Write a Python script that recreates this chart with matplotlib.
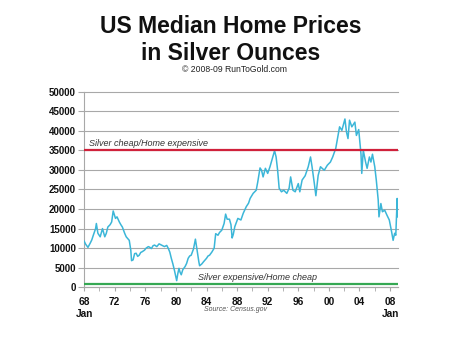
import matplotlib
matplotlib.use("Agg")
import matplotlib.pyplot as plt

# approximate monthly-ish readings of the chart (year, silver ounces)
YEARS = [
    1968.0, 1968.2, 1968.5, 1968.8, 1969.0, 1969.2, 1969.5, 1969.6, 1969.8, 1970.1,
    1970.4, 1970.7, 1970.9, 1971.1, 1971.4, 1971.6, 1971.8, 1972.1, 1972.3, 1972.6,
    1972.8, 1973.0, 1973.3, 1973.5, 1973.9, 1974.1, 1974.2, 1974.4, 1974.6, 1974.8,
    1975.0, 1975.2, 1975.4, 1975.6, 1975.9, 1976.1, 1976.4, 1976.6, 1976.8, 1977.0,
    1977.2, 1977.5, 1977.8, 1978.1, 1978.5, 1978.8, 1979.0, 1979.2, 1979.4, 1979.6,
    1979.8, 1979.95, 1980.1, 1980.25, 1980.4, 1980.55, 1980.7, 1980.9, 1981.2, 1981.4,
    1981.6, 1981.8, 1982.0, 1982.3, 1982.55, 1982.8, 1983.0, 1983.1, 1983.4, 1983.6,
    1984.0, 1984.2, 1984.4, 1984.7, 1985.0, 1985.2, 1985.5, 1985.7, 1986.0, 1986.3,
    1986.5, 1986.7, 1987.0, 1987.2, 1987.35, 1987.5, 1987.7, 1988.1, 1988.5, 1988.8,
    1989.2, 1989.5, 1989.7, 1990.1, 1990.5, 1990.7, 1991.0, 1991.2, 1991.4, 1991.7,
    1992.0, 1992.3, 1992.6, 1992.9, 1993.1, 1993.3, 1993.5, 1993.8, 1994.1, 1994.5,
    1994.8, 1995.0, 1995.3, 1995.6, 1996.0, 1996.2, 1996.5, 1996.9, 1997.3, 1997.6,
    1997.8, 1998.1, 1998.3, 1998.6, 1998.9, 1999.4, 1999.8, 2000.2, 2000.5, 2000.9,
    2001.2, 2001.4, 2001.7, 2002.1, 2002.3, 2002.5, 2002.7, 2003.0, 2003.4, 2003.6,
    2003.9, 2004.2, 2004.3, 2004.5, 2004.8, 2005.0, 2005.3, 2005.5, 2005.7, 2006.0,
    2006.2, 2006.45, 2006.55, 2006.8, 2007.0, 2007.3, 2007.6, 2007.9, 2008.2, 2008.4,
    2008.6, 2008.75, 2008.85, 2008.93, 2009.02,
]
OUNCES = [
    11800, 11000, 10200, 11300, 12100, 13300, 15000, 16300, 13800, 12900,
    15000, 12900, 13800, 15400, 16000, 16700, 19500, 17600, 18000, 16700,
    16000, 15400, 13800, 12900, 12000, 9500, 6800, 7000, 8600, 8700,
    7900, 8200, 8900, 9100, 9500, 10000, 10400, 10200, 9900, 10600,
    10800, 10400, 11100, 10800, 10400, 10700, 9950, 9000, 7400, 6000,
    4400, 3000, 1700, 3500, 4850, 3800, 3200, 4500, 5300, 6100,
    7400, 8000, 8200, 9800, 12300, 9100, 6500, 5500, 6000, 6500,
    7400, 8000, 8200, 9000, 10000, 13700, 13300, 14000, 14600, 16300,
    18700, 17400, 17400, 16000, 12600, 13500, 15500, 17600, 17200, 18900,
    20600, 21500, 22700, 24000, 24800, 26900, 30500, 29900, 28200, 30400,
    29100, 30800, 32900, 34900, 33300, 29900, 25300, 24400, 24800, 24000,
    25300, 28200, 24800, 24400, 26500, 24400, 27400, 28500, 30800, 33300,
    30800, 26500, 23400, 28600, 30800, 29900, 31200, 32000, 33300, 35500,
    38900, 41000, 40100, 43000, 39700, 38000, 42700, 41000, 42200, 38800,
    40300, 34000, 29100, 35000, 32000, 30400, 33300, 32000, 34000, 30800,
    27400, 22300, 18000, 21400, 19300, 19700, 18400, 17200, 14200, 12000,
    13800, 13300, 18900, 22700, 18000,
]
CHEAP_SILVER = 35000
EXPENSIVE_SILVER = 800
Y_TICKS = list(range(0, 50001, 5000))
X_LABEL_YEARS = list(range(1968, 2009, 4))
X_LABELS = ["68\nJan", "72", "76", "80", "84", "88", "92", "96", "00", "04", "08\nJan"]

fig = plt.figure(figsize=(4.7, 3.38), dpi=100)
ax = fig.add_axes([0.179, 0.150, 0.668, 0.579])

ax.plot(YEARS, OUNCES, color="#3bb6d8", linewidth=1.1, zorder=3)
ax.axhline(CHEAP_SILVER, color="#d0213b", linewidth=1.6, zorder=4)
ax.axhline(EXPENSIVE_SILVER, color="#35a853", linewidth=1.6, zorder=4)

ax.set_xlim(1968, 2009.05)
ax.set_ylim(0, 50000)
ax.set_yticks(Y_TICKS)
ax.set_yticklabels([str(v) for v in Y_TICKS], fontsize=7, fontweight="bold",
                   family=["Liberation Sans Narrow", "Liberation Sans"], color="#111111")
ax.set_xticks(X_LABEL_YEARS)
ax.set_xticklabels(X_LABELS, fontsize=7.3, fontweight="bold", family="Liberation Sans",
                   color="#111111", linespacing=1.25, va="top")
ax.set_xticks(range(1970, 2009, 4), minor=True)
ax.grid(True, axis="y", color="#a8a8a8", linewidth=0.8, zorder=0)
ax.tick_params(axis="y", length=4, color="#a8a8a8", pad=2)
ax.tick_params(axis="x", which="both", length=3, color="#a8a8a8", pad=4)
for side in ["top", "right"]:
    ax.spines[side].set_visible(False)
ax.spines["left"].set_color("#a8a8a8")
ax.spines["bottom"].set_color("#a8a8a8")
for t in ax.get_yticklines() + ax.get_ygridlines():
    t.set_clip_on(False)

ax.text(1968.6, 35700, "Silver cheap/Home expensive", fontsize=6.5, style="italic",
        family="Liberation Sans", color="#333333", va="bottom", ha="left")
ax.text(1982.9, 2400, "Silver expensive/Home cheap", fontsize=6.5, style="italic",
        family="Liberation Sans", color="#333333", va="center", ha="left")

fig.text(0.500, 0.083, "Source: Census.gov", fontsize=5, style="italic",
         family="Liberation Sans", color="#555555", ha="center", va="center")
fig.text(0.491, 0.902, "US Median Home Prices", fontsize=16.5, fontweight="bold",
         family="Liberation Sans", color="#111111", ha="center", va="baseline")
fig.text(0.491, 0.822, "in Silver Ounces", fontsize=16.5, fontweight="bold",
         family="Liberation Sans", color="#111111", ha="center", va="baseline")
fig.text(0.498, 0.787, "\u00a9 2008-09 RunToGold.com", fontsize=6.2,
         family="Liberation Sans", color="#222222", ha="center", va="baseline")

fig.savefig("out.png", dpi=100)
